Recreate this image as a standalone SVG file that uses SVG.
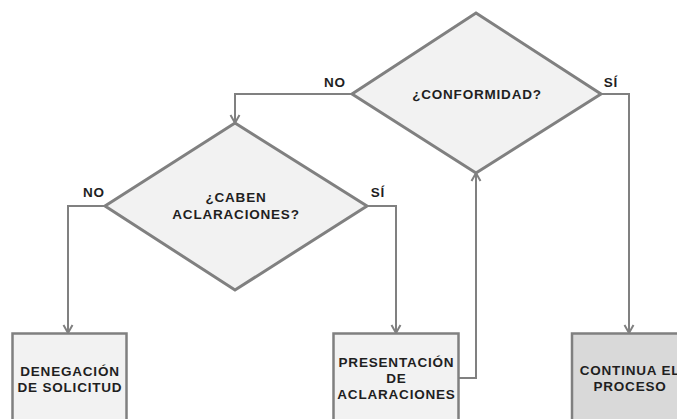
<svg xmlns="http://www.w3.org/2000/svg" width="677" height="419" viewBox="0 0 677 419">
<defs>
<marker id="arr" markerUnits="userSpaceOnUse" markerWidth="14" markerHeight="14" viewBox="-11 -7 14 14" refX="0" refY="0" orient="auto">
<path d="M-8,-4.5 L0,0 L-8,4.5" fill="none" stroke="#808080" stroke-width="2"/>
</marker>
<style>
.dia{fill:#f2f2f2;stroke:#808080;stroke-width:3}
.box{fill:#f2f2f2;stroke:#808080;stroke-width:2.5}
.box2{fill:#d9d9d9;stroke:#808080;stroke-width:2.5}
.con{fill:none;stroke:#808080;stroke-width:2}
text{font-family:"Liberation Sans",Arial,sans-serif;font-weight:bold;font-size:13.5px;fill:#1f1f1f;letter-spacing:0.8px;text-anchor:middle}
</style>
</defs>
<g id="connectors">
<path class="con" d="M352,94 H235 V123" marker-end="url(#arr)"/>
<path class="con" d="M601,94 H629 V333" marker-end="url(#arr)"/>
<path class="con" d="M105,206 H68 V333" marker-end="url(#arr)"/>
<path class="con" d="M367,206 H396 V333" marker-end="url(#arr)"/>
<path class="con" d="M459,378 H476 V173" marker-end="url(#arr)"/>
<text x="335" y="87">NO</text>
<text x="611" y="87">SÍ</text>
<text x="94" y="197">NO</text>
<text x="378" y="197">SÍ</text>
</g>
<g id="conformidad">
<polygon class="dia" points="476,13 601,94 476,173 352,94"/>
<text x="477" y="99">¿CONFORMIDAD?</text>
</g>
<g id="caben">
<polygon class="dia" points="235,123 367,206 235,290 105,206"/>
<text x="236" y="202">¿CABEN</text>
<text x="236" y="219">ACLARACIONES?</text>
</g>
<g id="denegacion">
<rect class="box" x="12.5" y="333.5" width="114" height="100"/>
<text x="70" y="376">DENEGACIÓN</text>
<text x="70" y="392">DE SOLICITUD</text>
</g>
<g id="presentacion">
<rect class="box" x="333.5" y="333.5" width="125" height="100"/>
<text x="396.5" y="367">PRESENTACIÓN</text>
<text x="396.5" y="383">DE</text>
<text x="396.5" y="399">ACLARACIONES</text>
</g>
<g id="continua">
<rect class="box2" x="572" y="333.5" width="114" height="100"/>
<text x="630" y="375">CONTINUA EL</text>
<text x="630" y="391">PROCESO</text>
</g>
</svg>
